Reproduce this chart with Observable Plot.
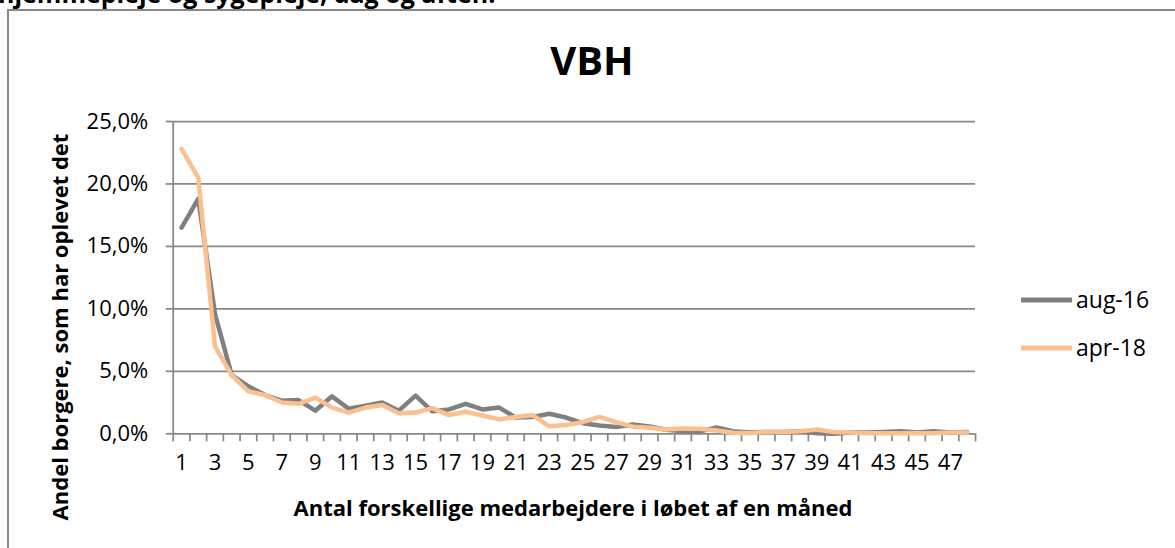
<!DOCTYPE html>
<html>
<head>
<meta charset="utf-8">
<script src="https://cdn.jsdelivr.net/npm/d3@7"></script>
<script src="https://cdn.jsdelivr.net/npm/@observablehq/plot@0.6"></script>
<style>
  html, body { margin: 0; padding: 0; background: #fff; overflow: hidden; }
  #chart svg { display: block; }
</style>
</head>
<body>
<div id="chart"></div>
<script>
const categories = [1,2,3,4,5,6,7,8,9,10,11,12,13,14,15,16,17,18,19,20,21,22,23,24,25,26,27,28,29,30,31,32,33,34,35,36,37,38,39,40,41,42,43,44,45,46,47,48];
const aug16 = [16.5,18.8,9.6,4.7,3.8,3.1,2.65,2.7,1.85,3.0,2.0,2.25,2.5,1.85,3.05,1.8,1.95,2.4,1.95,2.1,1.3,1.35,1.6,1.3,0.85,0.67,0.54,0.75,0.58,0.32,0.2,0.2,0.5,0.2,0.1,0.15,0.15,0.2,0.05,0.0,0.1,0.1,0.15,0.2,0.1,0.2,0.1,0.15];
const apr18 = [22.8,20.5,7.0,4.7,3.4,3.1,2.5,2.4,2.9,2.1,1.7,2.1,2.3,1.65,1.7,2.05,1.5,1.77,1.47,1.15,1.35,1.5,0.6,0.7,0.93,1.35,0.93,0.57,0.48,0.35,0.43,0.4,0.27,0.08,0.05,0.15,0.15,0.2,0.35,0.15,0.1,0.05,0.05,0.05,0.05,0.05,0.1,0.1];
const seriesNames = ["aug-16", "apr-18"];
const seriesColors = ["#808080", "#fac090"];
const yTicks = [0, 5, 10, 15, 20, 25];
const xLabels = [1,3,5,7,9,11,13,15,17,19,21,23,25,27,29,31,33,35,37,39,41,43,45,47];
const title = "VBH";
const xTitle = "Antal forskellige medarbejdere i løbet af en måned";
const yTitle = "Andel borgere, som har oplevet det";
const topText = "hjemmepleje og sygepleje, dag og aften.";

const rows = [];
[aug16, apr18].forEach((vals, s) => vals.forEach((v, i) => rows.push({series: seriesNames[s], cat: categories[i], v})));
const boundaries = categories.map(c => c - 0.5).concat([categories[categories.length - 1] + 0.5]);

const W = 1175, H = 548;
const FONT = "'Open Sans', sans-serif";
const grid = "#888888";

const svg = Plot.plot({
  width: W,
  height: H,
  marginLeft: 172.7,
  marginRight: 200,
  marginTop: 121,
  marginBottom: 114.7,
  style: {fontFamily: FONT, fontSize: "22px", color: "#000", background: "#fff", overflow: "visible"},
  x: {type: "linear", domain: [boundaries[0], boundaries[boundaries.length - 1]]},
  y: {domain: [0, 25]},
  marks: [
    Plot.gridY(yTicks, {stroke: grid, strokeOpacity: 1, strokeWidth: 1.75}),
    Plot.ruleX([boundaries[0]], {y1: 0, y2: 25, stroke: grid, strokeWidth: 1.75}),
    Plot.axisY(yTicks, {tickSize: 7, tickPadding: 18, stroke: grid, strokeWidth: 1.75, fill: "#000", label: null,
      tickFormat: d => d.toFixed(1).replace(".", ",") + "%", fontSize: 22}),
    Plot.axisX(boundaries, {tickSize: 8, stroke: grid, strokeWidth: 1.75, tickFormat: () => "", label: null}),
    Plot.axisX(xLabels, {tickSize: 0, tickPadding: 21, fill: "#000", fontSize: 22, label: null, tickFormat: d => String(d)}),
    Plot.line(rows.filter(r => r.series === seriesNames[0]), {x: "cat", y: "v", stroke: seriesColors[0], strokeWidth: 4.5, strokeLinejoin: "round", strokeLinecap: "round"}),
    Plot.line(rows.filter(r => r.series === seriesNames[1]), {x: "cat", y: "v", stroke: seriesColors[1], strokeWidth: 4.5, strokeLinejoin: "round", strokeLinecap: "round"})
  ]
});

const s = d3.select(svg);
// chart border
s.insert("rect", ":first-child")
  .attr("x", 8).attr("y", 10).attr("width", W + 20).attr("height", H + 20)
  .attr("fill", "none").attr("stroke", "#888").attr("stroke-width", 2);
// cropped heading text at the very top
s.append("text").attr("x", -2).attr("y", 3).attr("text-anchor", "start")
  .attr("font-family", FONT).attr("font-weight", "bold").attr("font-size", 25).attr("fill", "#000")
  .text(topText);
// title
s.append("text").attr("x", 592).attr("y", 75).attr("text-anchor", "middle")
  .attr("font-family", FONT).attr("font-weight", "bold").attr("font-size", 40).attr("fill", "#000")
  .text(title);
// x title
s.append("text").attr("x", 573).attr("y", 516).attr("text-anchor", "middle")
  .attr("font-family", FONT).attr("font-weight", "bold").attr("font-size", 22).attr("fill", "#000")
  .text(xTitle);
// y title
s.append("text").attr("transform", "translate(68,327) rotate(-90)").attr("text-anchor", "middle")
  .attr("font-family", FONT).attr("font-weight", "bold").attr("font-size", 22).attr("fill", "#000")
  .text(yTitle);
// legend
const legY = [300, 348];
seriesNames.forEach((name, i) => {
  s.append("line").attr("x1", 1021).attr("x2", 1072).attr("y1", legY[i]).attr("y2", legY[i])
    .attr("stroke", seriesColors[i]).attr("stroke-width", 5);
  s.append("text").attr("x", 1076).attr("y", legY[i]).attr("dy", "0.35em").attr("text-anchor", "start")
    .attr("font-family", FONT).attr("font-size", 23).attr("fill", "#000").text(name);
});

document.getElementById("chart").appendChild(svg);
</script>
</body>
</html>
